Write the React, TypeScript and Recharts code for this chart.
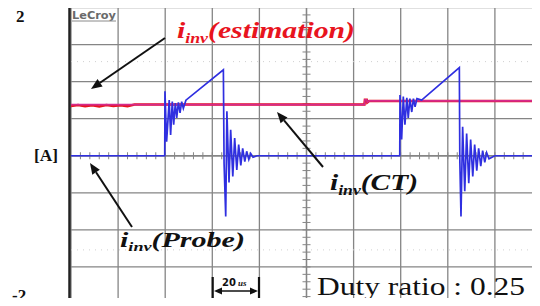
// @ts-nocheck
import React from 'react';
import { LineChart, Line, XAxis, YAxis, CartesianGrid, ReferenceLine } from 'recharts';

const COLORS = {
  probe: '#2f2fe0',
  ct: '#d42a8c',
  est: '#e8141e',
  grid: '#858585',
  faint: '#d0d0d0',
  ink: '#111111',
};

// time axis in microseconds (20 us/div), current in A (0.5 A/div)
const timeTicks = [0, 20, 40, 60, 80, 100, 120, 140, 160, 180, 200];
const ampTicks = [-2, -1.5, -1, -0.5, 0, 0.5, 1, 1.5, 2];

// i_inv (Probe) - blue trace
const probeT = [0, 39.8, 39.9, 40.6, 41.7, 42.3, 43.0, 43.6, 44.3, 44.9, 45.6, 46.3, 47.0, 47.7, 48.8, 64.7,
  65.0, 65.7, 66.2, 67.1, 67.8, 68.7, 69.5, 70.4, 71.2, 72.1, 72.9, 73.8, 74.6, 75.5, 76.3, 77.3, 79,
  139.6, 139.7, 140.4, 141.1, 141.8, 142.6, 143.2, 143.9, 144.7, 145.4, 146.1, 146.9, 148.9, 164.9,
  165.1, 165.6, 166.3, 167.2, 168.0, 168.9, 169.7, 170.6, 171.4, 172.3, 173.1, 174.0, 174.8, 175.7, 176.5, 177.5, 180, 200];
const probeA = [0, 0, 0.87, 0.19, 0.75, 0.28, 0.73, 0.42, 0.71, 0.51, 0.72, 0.58, 0.73, 0.64, 0.75, 1.16,
  -0.1, -0.82, 0.6, -0.36, 0.35, -0.28, 0.24, -0.19, 0.15, -0.13, 0.1, -0.08, 0.06, -0.05, 0.03, -0.02, 0,
  0, 0.82, 0.22, 0.8, 0.42, 0.78, 0.51, 0.77, 0.59, 0.77, 0.66, 0.77, 0.75, 1.19,
  -0.05, -0.82, 0.39, -0.48, 0.3, -0.37, 0.22, -0.28, 0.15, -0.2, 0.1, -0.14, 0.07, -0.09, 0.04, -0.04, 0, 0];

// i_inv (CT) - magenta trace
const ctT = [0, 124.6, 124.8, 125.6, 125.8, 126.6, 200];
const ctA = [0.69, 0.69, 0.755, 0.755, 0.72, 0.74, 0.74];

// i_inv (estimation) - red trace, mostly hidden under CT
const estT = [0, 3, 6, 9, 12, 15, 18, 21, 24, 27, 124.6, 124.8, 125.6, 125.8, 126.6, 200];
const estA = [0.67, 0.685, 0.668, 0.68, 0.665, 0.685, 0.672, 0.682, 0.668, 0.69, 0.69, 0.755, 0.755, 0.72, 0.74, 0.74];

const toRows = (ts, vs) => ts.map((t, i) => ({ t, v: vs[i] }));
const probeData = toRows(probeT, probeA);
const ctData = toRows(ctT, ctA);
const estData = toRows(estT, estA);

// center graticule line with minor ticks
const TickedLine = (divs) => (props) => {
  const { x1, y1, x2, y2 } = props;
  const vertical = Math.abs(x1 - x2) < 0.5;
  const marks = [];
  for (let i = 1; i < divs; i++) {
    if (vertical) {
      const y = y1 + ((y2 - y1) * i) / divs;
      marks.push(<line key={i} x1={x1 - 4} x2={x1 + 4} y1={y} y2={y} stroke={COLORS.grid} strokeWidth={1} />);
    } else {
      const x = x1 + ((x2 - x1) * i) / divs;
      marks.push(<line key={i} x1={x} x2={x} y1={y1 - 3.5} y2={y1 + 3.5} stroke={COLORS.grid} strokeWidth={1} />);
    }
  }
  return (
    <g>
      <line x1={x1} y1={y1} x2={x2} y2={y2} stroke={COLORS.grid} strokeWidth={1.3} />
      {marks}
    </g>
  );
};

const Arrow = ({ from, to, w = 2 }) => {
  const [x1, y1] = from;
  const [x2, y2] = to;
  const a = Math.atan2(y2 - y1, x2 - x1);
  const L = 11, W = 4.5;
  const bx = x2 - L * Math.cos(a), by = y2 - L * Math.sin(a);
  const p1 = [bx + W * Math.sin(a), by - W * Math.cos(a)];
  const p2 = [bx - W * Math.sin(a), by + W * Math.cos(a)];
  return (
    <g>
      <line x1={x1} y1={y1} x2={bx} y2={by} stroke={COLORS.ink} strokeWidth={w} />
      <polygon points={`${x2},${y2} ${p1[0]},${p1[1]} ${p2[0]},${p2[1]}`} fill={COLORS.ink} />
    </g>
  );
};

const serif = { fontFamily: "'Liberation Serif', 'Times New Roman', Times, serif" };

const IinvLabel = ({ x, y, size, len, color, tail }) => (
  <text x={x} y={y} style={serif} fontWeight="bold" fontStyle="italic" fontSize={size} fill={color}
    textLength={len} lengthAdjust="spacingAndGlyphs">
    <tspan>i</tspan>
    <tspan fontSize={size * 0.6} dy={size * 0.2}>inv</tspan>
    <tspan dy={-size * 0.2}>{tail}</tspan>
  </text>
);

export default function App() {
  return (
    <div style={{ position: 'relative', width: 540, height: 306, margin: -8, overflow: 'hidden', background: '#fff' }}>
      <LineChart width={542} height={306} margin={{ top: 7.5, right: 0, bottom: 2, left: 71 }}>
        <XAxis type="number" dataKey="t" domain={[0, 200]} ticks={timeTicks} hide allowDataOverflow />
        <YAxis type="number" dataKey="v" domain={[-2, 2]} ticks={ampTicks} hide allowDataOverflow />
        <CartesianGrid stroke={COLORS.grid} strokeWidth={1.3} />
        <ReferenceLine y={1.27} stroke={COLORS.faint} strokeDasharray="1 5" />
        <ReferenceLine y={-1.27} stroke={COLORS.faint} strokeDasharray="1 5" />
        <ReferenceLine x={100} shape={TickedLine(40)} />
        <ReferenceLine y={0} shape={TickedLine(50)} />
        <Line data={estData} dataKey="v" type="linear" stroke={COLORS.est} strokeWidth={2.5} dot={false} isAnimationActive={false} />
        <Line data={ctData} dataKey="v" type="linear" stroke={COLORS.ct} strokeWidth={1.6} dot={false} isAnimationActive={false} />
        <Line data={probeData} dataKey="v" type="linear" stroke={COLORS.probe} strokeWidth={1.7} dot={false} isAnimationActive={false} />
      </LineChart>

      <svg width={540} height={306} style={{ position: 'absolute', left: 0, top: 0, pointerEvents: 'none' }}>
        {/* scope frame on the left */}
        <line x1={69.5} y1={6.5} x2={69.5} y2={305} stroke="#222" strokeWidth={2.5} />
        <line x1={28} y1={6.5} x2={70} y2={6.5} stroke="#222" strokeWidth={2} />
        <line x1={32} y1={303} x2={70} y2={303} stroke="#222" strokeWidth={2} />

        <text x={72} y={19} fontFamily="DejaVu Sans, sans-serif" fontWeight="bold" fontSize={10.5} fill="#6a6a6a" textLength={44} lengthAdjust="spacingAndGlyphs">LeCroy</text>
        <line x1={72} y1={21} x2={116} y2={21} stroke="#8a8a8a" strokeWidth={1} />

        <text x={16} y={22} style={serif} fontWeight="bold" fontSize={17} fill={COLORS.ink}>2</text>
        <text x={12} y={301} style={serif} fontWeight="bold" fontSize={17} fill={COLORS.ink}>-2</text>
        <text x={34} y={161} style={serif} fontWeight="bold" fontSize={16} fill={COLORS.ink} textLength={24} lengthAdjust="spacingAndGlyphs">[A]</text>

        <IinvLabel x={177} y={38} size={24} len={178} color={COLORS.est} tail="(estimation)" />
        <IinvLabel x={330} y={190} size={23} len={88} color={COLORS.ink} tail="(CT)" />
        <IinvLabel x={120} y={247} size={22} len={125} color={COLORS.ink} tail="(Probe)" />

        <Arrow from={[165, 38]} to={[91, 89]} />
        <Arrow from={[323, 167]} to={[277, 112]} />
        <Arrow from={[132, 227]} to={[90, 163]} />

        {/* 20 us scale marker */}
        <line x1={212.7} y1={277} x2={212.7} y2={306} stroke={COLORS.ink} strokeWidth={2.2} />
        <line x1={259} y1={277} x2={259} y2={306} stroke={COLORS.ink} strokeWidth={2.2} />
        <line x1={220} y1={291} x2={252} y2={291} stroke={COLORS.ink} strokeWidth={1.5} />
        <polygon points="214,291 222,287.5 222,294.5" fill={COLORS.ink} />
        <polygon points="258,291 250,287.5 250,294.5" fill={COLORS.ink} />
        <text x={222} y={286} fontFamily="DejaVu Sans, sans-serif" fontWeight="bold" fontSize={10} fill={COLORS.ink}>20</text>
        <text x={238} y={286} style={serif} fontWeight="bold" fontStyle="italic" fontSize={9} fill={COLORS.ink}>us</text>

        <text x={317} y={295} style={serif} fontSize={25} fill={COLORS.ink} textLength={208} lengthAdjust="spacingAndGlyphs">Duty ratio : 0.25</text>
      </svg>
    </div>
  );
}
